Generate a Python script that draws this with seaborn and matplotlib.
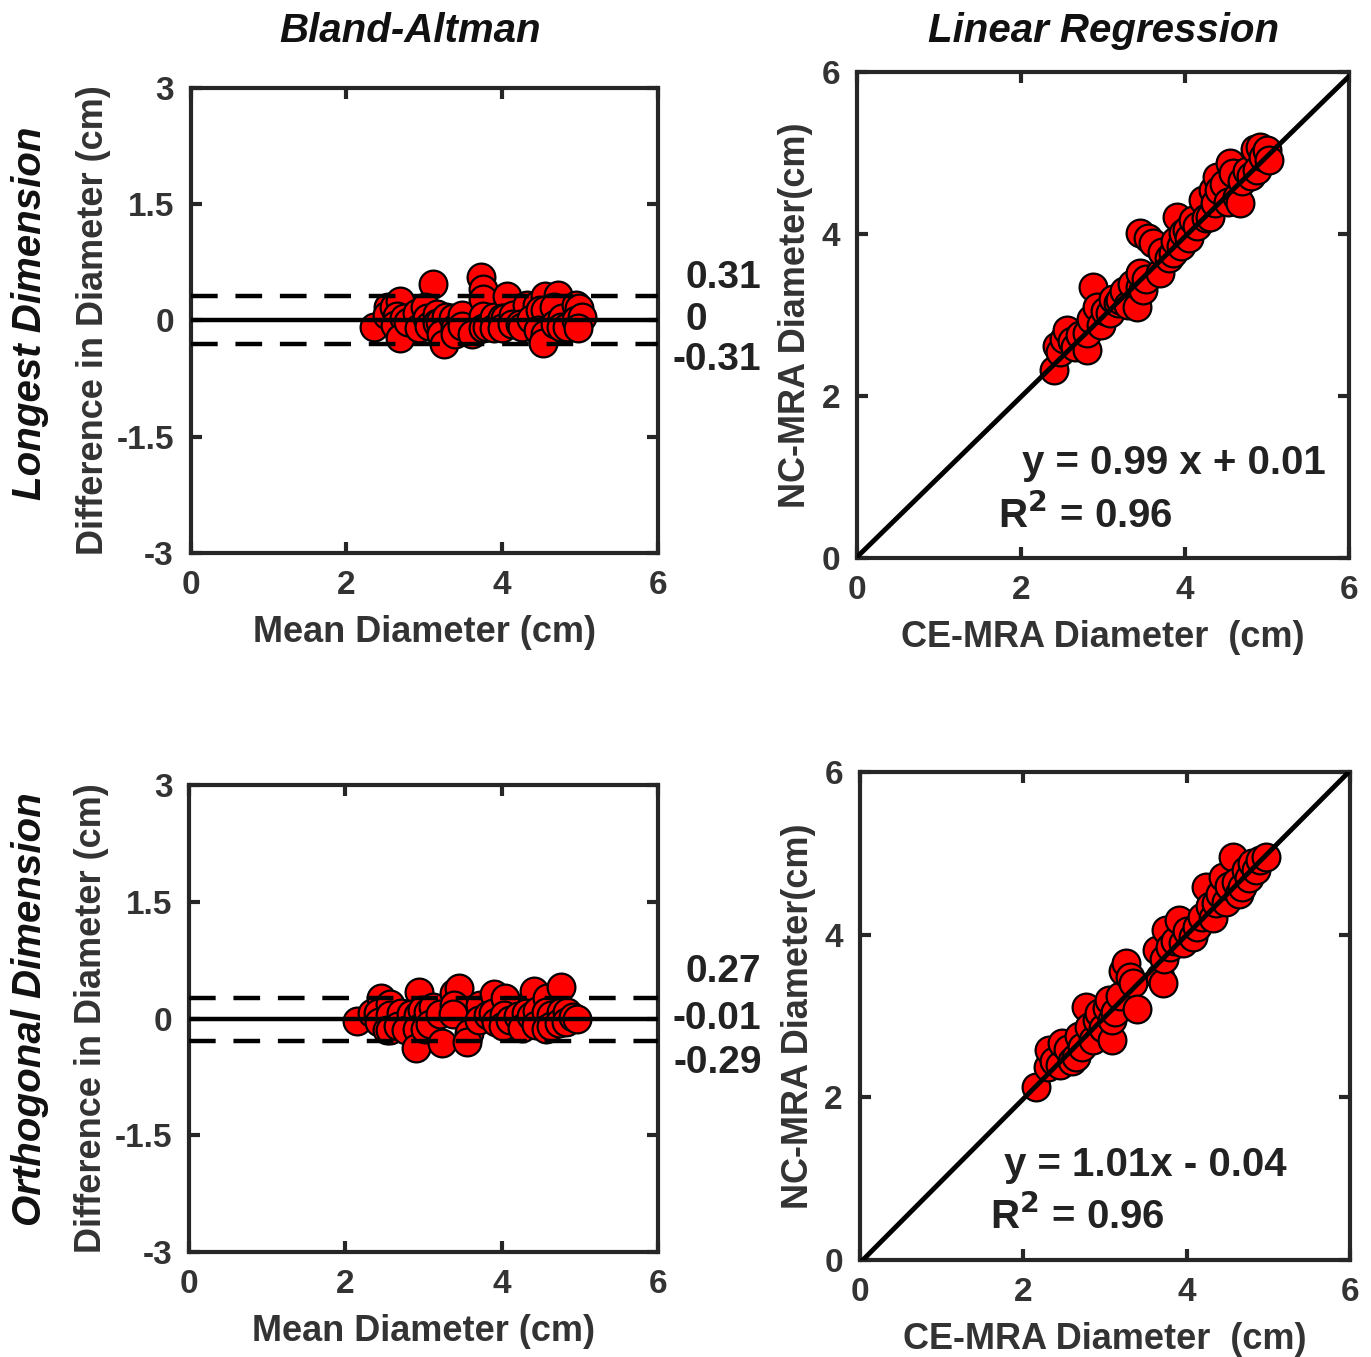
import seaborn as sns
import matplotlib.pyplot as plt
import pandas as pd

sns.set_style("ticks")
plt.rcParams['font.family'] = ['Liberation Sans', 'DejaVu Sans']
plt.rcParams['font.weight'] = 'bold'
plt.rcParams['axes.unicode_minus'] = False

# 최장 직경 (CE-MRA vs NC-MRA)
ce_long = [2.40, 2.44, 2.48, 2.52, 2.56, 2.62, 2.66, 2.72, 2.80, 2.80, 2.85, 2.88, 2.93, 2.98,
           3.02, 3.09, 3.12, 3.18, 3.21, 3.26, 3.30, 3.35, 3.41, 3.45, 3.49, 3.45, 3.52, 3.45,
           3.55, 3.61, 3.70, 3.72, 3.80, 3.85, 3.88, 3.90, 3.95, 3.98, 4.02, 4.05, 4.10, 4.15,
           4.22, 4.25, 4.30, 4.34, 4.36, 4.39, 4.42, 4.48, 4.52, 4.55, 4.58, 4.63, 4.67, 4.70,
           4.75, 4.80, 4.85, 4.88, 4.91, 4.95, 5.00, 5.02]
nc_long = [2.32, 2.62, 2.55, 2.70, 2.81, 2.68, 2.60, 2.75, 2.57, 2.78, 2.95, 3.35, 3.10, 2.88,
           3.05, 3.02, 3.20, 3.15, 3.19, 3.30, 3.12, 3.38, 3.10, 3.35, 3.31, 3.52, 3.45, 4.01,
           3.95, 3.89, 3.52, 3.78, 3.70, 3.77, 3.92, 4.21, 3.85, 4.01, 4.05, 3.95, 4.17, 4.10,
           4.42, 4.20, 4.21, 4.54, 4.38, 4.70, 4.55, 4.62, 4.40, 4.88, 4.75, 4.46, 4.38, 4.65,
           4.78, 4.72, 5.05, 4.79, 5.07, 4.95, 5.04, 4.92]

# 직교 직경
ce_orth = [2.16, 2.30, 2.32, 2.38, 2.45, 2.48, 2.55, 2.60, 2.65, 2.68, 2.72, 2.77, 2.81, 2.85,
           2.90, 2.93, 2.98, 3.02, 3.05, 3.09, 3.09, 3.12, 3.18, 3.22, 3.26, 3.30, 3.34, 3.39,
           3.63, 3.67, 3.71, 3.72, 3.75, 3.80, 3.85, 3.91, 3.95, 4.00, 4.07, 4.12, 4.19, 4.24,
           4.28, 4.32, 4.36, 4.40, 4.44, 4.48, 4.52, 4.56, 4.60, 4.64, 4.68, 4.72, 4.76, 4.80,
           4.85, 4.90, 4.97]
nc_orth = [2.13, 2.37, 2.58, 2.45, 2.40, 2.67, 2.60, 2.45, 2.50, 2.75, 2.62, 3.11, 2.87, 2.70,
           2.95, 3.04, 2.85, 3.10, 3.20, 2.71, 2.95, 3.05, 3.24, 3.55, 3.65, 3.48, 3.40, 3.08,
           3.81, 3.48, 3.41, 3.70, 4.06, 3.85, 3.92, 4.18, 3.90, 4.05, 3.97, 4.10, 4.22, 4.59,
           4.35, 4.20, 4.39, 4.50, 4.71, 4.40, 4.60, 4.96, 4.65, 4.50, 4.59, 4.80, 4.70, 4.88,
           4.80, 4.92, 4.96]

# Bland-Altman 기준선 (bias, upper, lower) / 회귀식
ba_long = [0.0, 0.31, -0.31]
ba_orth = [-0.01, 0.27, -0.29]
reg_long = [0.99, 0.01]
reg_orth = [1.01, -0.04]
eq_long = 'y = 0.99 x + 0.01'
eq_orth = 'y = 1.01x - 0.04'
r2_text = 'R$^\\mathbf{2}$ = 0.96'
ba_yticks = [-3, -1.5, 0, 1.5, 3]
ba_yticklabels = ['-3', '-1.5', '0', '1.5', '3']
xticks = [0, 2, 4, 6]

DARK = '#262626'
TXT = '#333333'
FS = 25


def style_axes(ax):
    for s in ax.spines.values():
        s.set_linewidth(3)
        s.set_color(DARK)
    ax.tick_params(direction='in', length=8, width=3, top=True, right=True,
                   labelsize=FS - 1, labelcolor=TXT, color=DARK, pad=12)
    for lab in ax.get_xticklabels() + ax.get_yticklabels():
        lab.set_fontweight('bold')


def bland_altman(ax, ce, nc, lines, labels, label_y, label_x):
    df = pd.DataFrame({'mean': [(a + b) / 2 for a, b in zip(ce, nc)],
                       'diff': [b - a for a, b in zip(ce, nc)]})
    sns.scatterplot(data=df, x='mean', y='diff', ax=ax, s=400, color='#ff0000',
                    edgecolor='black', linewidth=1.6, zorder=3, legend=False)
    ax.axhline(lines[0], color='black', lw=3.2, zorder=4)
    ax.axhline(lines[1], color='black', lw=3.2, ls=(0, (6, 4)), zorder=4)
    ax.axhline(lines[2], color='black', lw=3.2, ls=(0, (6, 4)), zorder=4)
    ax.set_xlim(0, 6)
    ax.set_ylim(-3, 3)
    ax.set_xticks(xticks)
    ax.set_yticks(ba_yticks)
    ax.set_yticklabels(ba_yticklabels)
    ax.set_xlabel('Mean Diameter (cm)', fontsize=FS + 1, fontweight='bold', color=TXT, labelpad=10)
    ax.set_ylabel('Difference in Diameter (cm)', fontsize=FS + 1, fontweight='bold',
                  color=TXT, labelpad=4)
    for t, yy, xx in zip(labels, label_y, label_x):
        ax.text(xx, yy, t, fontsize=FS + 3, fontweight='bold', color='#222222',
                va='center', ha='left', clip_on=False)
    style_axes(ax)


def regression(ax, ce, nc, coef, eq, eq_pos, r2_pos):
    df = pd.DataFrame({'ce': ce, 'nc': nc})
    sns.scatterplot(data=df, x='ce', y='nc', ax=ax, s=400, color='#ff0000',
                    edgecolor='black', linewidth=1.6, zorder=3, legend=False)
    sns.lineplot(x=[0, 6], y=[coef[1], coef[0] * 6 + coef[1]], ax=ax, color='black',
                 lw=3.5, zorder=4)
    ax.set_xlim(0, 6)
    ax.set_ylim(0, 6)
    ax.set_xticks(xticks)
    ax.set_yticks(xticks)
    ax.set_xlabel('CE-MRA Diameter  (cm)', fontsize=FS + 1, fontweight='bold', color=TXT, labelpad=10)
    ax.set_ylabel('NC-MRA Diameter(cm)', fontsize=FS + 1, fontweight='bold', color=TXT, labelpad=6)
    ax.text(eq_pos[0], eq_pos[1], eq, fontsize=FS + 4, fontweight='bold', color='#222222', va='center')
    ax.text(r2_pos[0], r2_pos[1], r2_text, fontsize=FS + 4, fontweight='bold', color='#222222', va='center')
    style_axes(ax)


fig = plt.figure(figsize=(13.71, 13.57), dpi=100)
ax1 = fig.add_axes([0.139, 0.5925, 0.341, 0.3427])
ax2 = fig.add_axes([0.625, 0.5888, 0.359, 0.358])
ax3 = fig.add_axes([0.138, 0.0774, 0.342, 0.344])
ax4 = fig.add_axes([0.627, 0.0715, 0.358, 0.3596])

bland_altman(ax1, ce_long, nc_long, ba_long, ['0.31', '0', '-0.31'],
             [0.55, 0.0, -0.51], [6.35, 6.35, 6.18])
regression(ax2, ce_long, nc_long, reg_long, eq_long, (2.01, 1.17), (1.72, 0.53))
bland_altman(ax3, ce_orth, nc_orth, ba_orth, ['0.27', '-0.01', '-0.29'],
             [0.60, 0.0, -0.57], [6.35, 6.18, 6.2])
regression(ax4, ce_orth, nc_orth, reg_orth, eq_orth, (1.77, 1.17), (1.59, 0.53))

fig.text(0.299, 0.977, 'Bland-Altman', fontsize=FS + 4, fontweight='bold', style='italic',
         ha='center', va='center', color='#111111')
fig.text(0.805, 0.977, 'Linear Regression', fontsize=FS + 4, fontweight='bold', style='italic',
         ha='center', va='center', color='#111111')
fig.text(0.022, 0.769, 'Longest Dimension', fontsize=FS + 4, fontweight='bold', style='italic',
         rotation=90, ha='center', va='center', color='#111111')
fig.text(0.022, 0.256, 'Orthogonal Dimension', fontsize=FS + 4, fontweight='bold', style='italic',
         rotation=90, ha='center', va='center', color='#111111')

fig.savefig('out.png', dpi=100, facecolor='white')
